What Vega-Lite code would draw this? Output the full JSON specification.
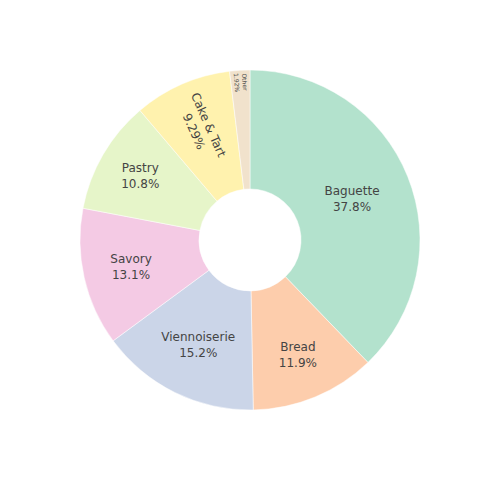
{
  "$schema": "https://vega.github.io/schema/vega-lite/v6.json",
  "width": 500,
  "height": 480,
  "padding": 0,
  "autosize": {"type": "none"},
  "background": "white",
  "view": {"stroke": null},
  "data": {
    "values": [
      {"cat": "Baguette", "pct": 37.8, "ord": 1},
      {"cat": "Bread", "pct": 11.9, "ord": 2},
      {"cat": "Viennoiserie", "pct": 15.2, "ord": 3},
      {"cat": "Savory", "pct": 13.1, "ord": 4},
      {"cat": "Pastry", "pct": 10.8, "ord": 5},
      {"cat": "Cake & Tart", "pct": 9.29, "ord": 6},
      {"cat": "Other", "pct": 1.92, "ord": 7}
    ]
  },
  "transform": [
    {"calculate": "[datum.cat, format(datum.pct, '.3r') + '%']", "as": "lbl"}
  ],
  "encoding": {
    "theta": {"field": "pct", "type": "quantitative", "stack": true},
    "order": {"field": "ord", "type": "quantitative"}
  },
  "layer": [
    {
      "mark": {"type": "arc", "innerRadius": 51, "outerRadius": 170, "stroke": "white", "strokeWidth": 0.5},
      "encoding": {
        "color": {
          "field": "cat",
          "type": "nominal",
          "legend": null,
          "scale": {
            "domain": ["Baguette", "Bread", "Viennoiserie", "Savory", "Pastry", "Cake & Tart", "Other"],
            "range": ["#b3e2cd", "#fdcdac", "#cbd5e8", "#f4cae4", "#e6f5c9", "#fff2ae", "#f1e2cc"]
          }
        }
      }
    },
    {
      "mark": {"type": "text", "font": "DejaVu Sans", "fontSize": 12, "color": "#444444", "baseline": "middle", "align": "center", "lineHeight": 16, "dy": -8, "radius": 110},
      "encoding": {"text": {"condition": {"test": "datum.cat !== 'Baguette'", "value": ""}, "field": "lbl"}}
    },
    {
      "mark": {"type": "text", "font": "DejaVu Sans", "fontSize": 12, "color": "#444444", "baseline": "middle", "align": "center", "lineHeight": 16, "dy": -8, "radius": 125},
      "encoding": {"text": {"condition": {"test": "datum.cat !== 'Bread'", "value": ""}, "field": "lbl"}}
    },
    {
      "mark": {"type": "text", "font": "DejaVu Sans", "fontSize": 12, "color": "#444444", "baseline": "middle", "align": "center", "lineHeight": 16, "dy": -8, "radius": 117},
      "encoding": {"text": {"condition": {"test": "datum.cat !== 'Viennoiserie'", "value": ""}, "field": "lbl"}}
    },
    {
      "mark": {"type": "text", "font": "DejaVu Sans", "fontSize": 12, "color": "#444444", "baseline": "middle", "align": "center", "lineHeight": 16, "dy": -8, "radius": 122},
      "encoding": {"text": {"condition": {"test": "datum.cat !== 'Savory'", "value": ""}, "field": "lbl"}}
    },
    {
      "mark": {"type": "text", "font": "DejaVu Sans", "fontSize": 12, "color": "#444444", "baseline": "middle", "align": "center", "lineHeight": 16, "dy": -8, "radius": 127},
      "encoding": {"text": {"condition": {"test": "datum.cat !== 'Pastry'", "value": ""}, "field": "lbl"}}
    },
    {
      "mark": {"type": "text", "font": "DejaVu Sans", "fontSize": 12, "color": "#444444", "baseline": "middle", "align": "center", "lineHeight": 16, "dy": -8, "radius": 122, "angle": 66},
      "encoding": {"text": {"condition": {"test": "datum.cat !== 'Cake & Tart'", "value": ""}, "field": "lbl"}}
    },
    {
      "mark": {"type": "text", "font": "DejaVu Sans", "fontSize": 6, "color": "#444444", "baseline": "middle", "align": "center", "lineHeight": 8, "dy": -4, "radius": 158, "angle": 86},
      "encoding": {"text": {"condition": {"test": "datum.cat !== 'Other'", "value": ""}, "field": "lbl"}}
    }
  ]
}
